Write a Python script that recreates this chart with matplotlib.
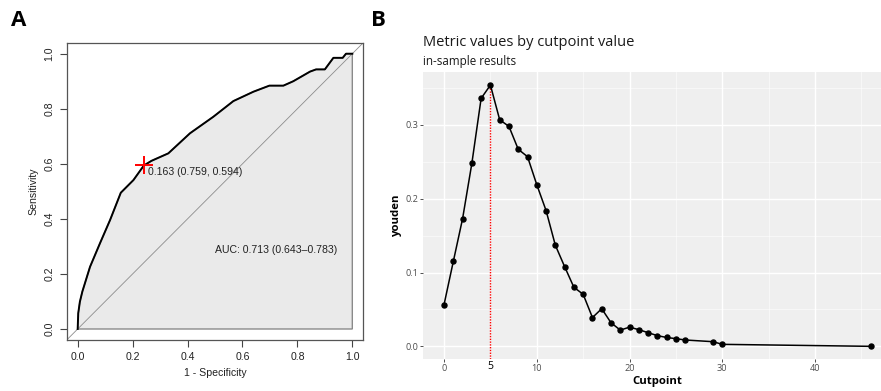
import matplotlib
matplotlib.use("Agg")
import matplotlib.pyplot as plt
import matplotlib.transforms as mtransforms
from matplotlib.ticker import MultipleLocator, FormatStrFormatter

# ---------------- data ----------------
# Panel A: ROC curve (1 - specificity, sensitivity)
roc_fpr = [0.0, 0.002, 0.008, 0.017, 0.045, 0.081, 0.118, 0.157, 0.203, 0.241,
           0.269, 0.330, 0.409, 0.494, 0.567, 0.640, 0.698, 0.749, 0.785, 0.846,
           0.868, 0.900, 0.931, 0.965, 0.977, 1.0]
roc_tpr = [0.0, 0.057, 0.099, 0.136, 0.226, 0.311, 0.396, 0.495, 0.541, 0.594,
           0.611, 0.638, 0.711, 0.771, 0.828, 0.862, 0.884, 0.884, 0.900, 0.935,
           0.943, 0.943, 0.985, 0.985, 1.0, 1.0]
best_fpr, best_tpr = 0.241, 0.594
best_label = "0.163 (0.759, 0.594)"
auc_label = "AUC: 0.713 (0.643\u20130.783)"
roc_ticks = [0.0, 0.2, 0.4, 0.6, 0.8, 1.0]

# Panel B: Youden index by cutpoint
cutpoints = [0, 1, 2, 3, 4, 5, 6, 7, 8, 9, 10, 11, 12, 13, 14, 15, 16, 17, 18,
             19, 20, 21, 22, 23, 24, 25, 26, 29, 30, 46]
youden = [0.0565, 0.115, 0.173, 0.248, 0.336, 0.354, 0.307, 0.298, 0.267, 0.257,
          0.219, 0.184, 0.137, 0.108, 0.080, 0.0705, 0.039, 0.051, 0.032, 0.022,
          0.026, 0.0226, 0.0185, 0.0145, 0.012, 0.0104, 0.0086, 0.0063, 0.0027, 0.0]
optimal_cut = 5
b_xticks = [0, 10, 20, 30, 40]
b_yticks = [0.0, 0.1, 0.2, 0.3]

W, H = 881, 391
fig = plt.figure(figsize=(W / 100, H / 100), dpi=100)

def fx(px):
    return px / W

def fy(py):
    return 1 - py / H

# ---------------- Panel A ----------------
rfont = "Liberation Sans"
axA = fig.add_axes([fx(66.7), fy(340), fx(363.3) - fx(66.7), fy(42.7) - fy(340)])
axA.set_xlim(-0.04, 1.04)
axA.set_ylim(-0.04, 1.04)
poly_x = roc_fpr + [1.0, 0.0]
poly_y = roc_tpr + [0.0, 0.0]
axA.fill(poly_x, poly_y, facecolor="#EAEAEA", edgecolor="#8A8A8A", lw=1.0, zorder=1)
axA.plot([-0.04, 1.04], [-0.04, 1.04], color="#8C8C8C", lw=0.6, zorder=2)
axA.plot(roc_fpr, roc_tpr, color="black", lw=1.4, zorder=3)
axA.plot([best_fpr], [best_tpr], marker="+", ms=13, mew=1.4, color="red", zorder=4)
axA.text(0.257, 0.571, best_label, ha="left", va="center", fontsize=7.6,
         family=rfont, color="#222222")
axA.text(0.5, 0.287, auc_label, ha="left", va="center", fontsize=7.6,
         family=rfont, color="#222222")
axA.set_xticks(roc_ticks)
axA.set_yticks(roc_ticks)
axA.set_xticklabels([f"{t:.1f}" for t in roc_ticks], family=rfont, fontsize=7.6)
axA.set_yticklabels([f"{t:.1f}" for t in roc_ticks], family=rfont, fontsize=7.6,
                    rotation=90, va="center")
axA.tick_params(direction="out", length=5, width=0.8, colors="#444444",
                labelcolor="#222222", pad=4)
for s in axA.spines.values():
    s.set_color("#555555")
    s.set_linewidth(0.9)
axA.set_xlabel("1 - Specificity", family=rfont, fontsize=7.6, color="#222222", labelpad=4)
axA.set_ylabel("Sensitivity", family=rfont, fontsize=7.6, color="#222222", labelpad=4)

# ---------------- Panel B ----------------
bfont = "Open Sans"
xlo, xhi = -2.3, 48.3
ylo, yhi = -0.0177, 0.372
left_px, right_px = 422.7, 444.3 + 48.3 * 9.27
axB = fig.add_axes([fx(left_px), fy(359.4), fx(right_px) - fx(left_px), fy(71.8) - fy(359.4)])
axB.set_facecolor("#EFEFEF")
axB.set_xlim(xlo, xhi)
axB.set_ylim(ylo, yhi)
axB.xaxis.set_major_locator(plt.FixedLocator(b_xticks))
axB.xaxis.set_minor_locator(MultipleLocator(5))
axB.yaxis.set_major_locator(plt.FixedLocator(b_yticks))
axB.yaxis.set_minor_locator(MultipleLocator(0.05))
axB.yaxis.set_major_formatter(FormatStrFormatter("%.1f"))
axB.grid(which="major", color="white", lw=1.0)
axB.grid(which="minor", color="white", lw=0.5, alpha=0.8)
axB.set_axisbelow(True)
for s in axB.spines.values():
    s.set_visible(False)
axB.tick_params(which="major", length=2.0, width=0.6, color="#333333",
                labelcolor="#4D4D4D", labelsize=6.6, pad=1.2)
for lab in axB.get_xticklabels() + axB.get_yticklabels():
    lab.set_family(bfont)
axB.tick_params(which="minor", length=0)
axB.vlines(optimal_cut, ylo, max(youden), colors="red", linestyles=(0, (1, 1)), lw=1.0, zorder=2)
axB.plot(cutpoints, youden, color="black", lw=1.1, marker="o", ms=3.6, zorder=3)
trans = mtransforms.blended_transform_factory(axB.transData, fig.transFigure)
axB.text(optimal_cut, fy(366.5), str(optimal_cut), transform=trans, ha="center", va="center",
         fontsize=7.6, color="black", family=bfont)
axB.set_xlabel("Cutpoint", fontsize=8.2, fontweight="bold", labelpad=2.5, family=bfont)
axB.set_ylabel("youden", fontsize=8.2, fontweight="bold", labelpad=2.5, family=bfont)
fig.text(fx(423), fy(43), "Metric values by cutpoint value", fontsize=10.5,
         ha="left", va="center", color="#1A1A1A", family=bfont)
fig.text(fx(423), fy(61), "in-sample results", fontsize=8.4, ha="left", va="center",
         color="#1A1A1A", family=bfont)

# panel letters
fig.text(fx(19), fy(20), "A", fontsize=16, fontweight="bold", ha="center", va="center",
         family="Open Sans")
fig.text(fx(378), fy(20), "B", fontsize=16, fontweight="bold", ha="center", va="center",
         family="Open Sans")

fig.savefig("out.png", dpi=100)
